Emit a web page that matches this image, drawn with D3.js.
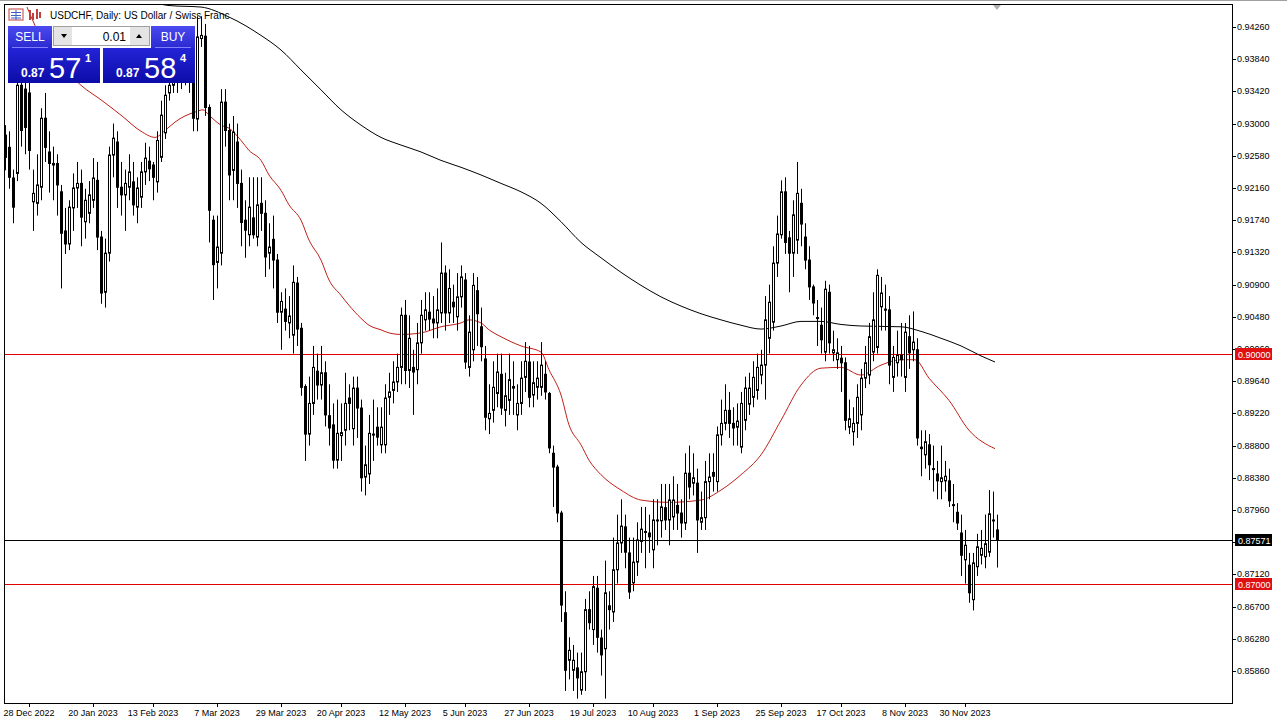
<!DOCTYPE html>
<html>
<head>
<meta charset="utf-8">
<script src="https://cdn.jsdelivr.net/npm/d3@7"></script>
<style>
  body { margin: 0; background: #fff; }
  svg text { font-family: "Liberation Sans", Arial, sans-serif; }
</style>
</head>
<body>
<div id="viz"></div>
<script>
// USDCHF daily, prices in pips (1/10000)
var opens = [
9285,9269,9229,9235,9350,9345,9340,9198,9196,9217,9307,9263,9246,9248,9211,9160,9143,9190,9216,9222,
9172,9183,9200,9226,9152,9080,9131,9259,9276,9217,9207,9217,9224,9191,9204,9237,9251,9246,9224,9256,
9288,9340,9350,9375,9355,9385,9355,9380,9306,9411,9414,9321,9174,9119,9131,9328,9291,9239,9276,9222,
9174,9155,9177,9152,9196,9183,9131,9149,9122,9054,9058,9040,9024,9092,9033,8957,8895,8935,8977,8959,
8975,8919,8907,8861,8893,8900,8942,8902,8955,8929,8839,8843,8895,8904,8881,8881,8943,8952,8963,8982,
9050,8978,8982,8979,9014,9044,9054,9045,9040,9053,9105,9053,9067,9048,9074,9096,8982,9005,9082,9035,
8993,8915,8926,8948,8973,8926,8939,8957,8920,8935,8969,8989,8946,8956,8956,8973,8948,8870,8852,8792,
8662,8600,8587,8590,8561,8585,8666,8640,8694,8629,8615,8671,8663,8718,8753,8774,8740,8701,8728,8755,
8767,8766,8744,8782,8782,8799,8783,8787,8802,8792,8779,8844,8831,8831,8780,8786,8833,8845,8833,8894,
8909,8926,8909,8904,8878,8913,8934,8943,8952,8972,8985,9020,9041,9118,9155,9211,9151,9131,9148,9196,
9152,9122,9087,9047,9037,9002,9080,9001,8992,8994,8988,8904,8898,8909,8920,8968,8972,9002,9008,9061,
9058,9057,8969,8988,8998,8969,9022,9005,9005,8876,8868,8881,8850,8843,8833,8834,8834,8803,8793,8766,
8731,8724,8679,8722,8737,8735,8741,8782,8770];
var highs = [
9298,9290,9240,9370,9375,9370,9355,9240,9260,9320,9340,9290,9270,9260,9220,9190,9200,9235,9250,9240,
9215,9225,9255,9250,9160,9150,9270,9300,9290,9250,9240,9260,9250,9230,9250,9275,9270,9250,9290,9330,
9350,9370,9395,9390,9400,9410,9400,9395,9440,9440,9430,9325,9180,9180,9345,9345,9300,9310,9300,9240,
9200,9230,9230,9230,9230,9200,9170,9180,9130,9080,9085,9075,9115,9100,9040,8960,8970,9010,9000,9010,
8990,8960,8935,8940,8935,8975,8960,8970,8970,8940,8880,8920,8940,8930,8930,8960,8975,8990,9000,9060,
9070,9050,9005,9040,9070,9080,9080,9075,9085,9145,9115,9110,9090,9105,9115,9105,9050,9105,9100,9060,
9010,8960,8990,9000,9000,8975,9000,8990,8960,8990,9015,9010,8990,8990,9015,8990,8950,8880,8855,8795,
8690,8630,8620,8610,8610,8680,8690,8710,8710,8640,8730,8690,8760,8790,8810,8790,8760,8760,8780,8800,
8800,8790,8810,8810,8830,8830,8830,8840,8830,8810,8870,8880,8870,8850,8820,8860,8870,8870,8905,8940,
8960,8950,8930,8935,8950,8970,8975,8990,9000,9005,9075,9090,9140,9180,9226,9230,9160,9200,9250,9215,
9170,9140,9090,9070,9060,9095,9090,9030,9020,9010,8995,8940,8930,8960,8980,9010,9040,9080,9110,9100,
9090,9075,9010,9030,9040,9040,9050,9055,9020,8900,8900,8895,8880,8860,8880,8860,8850,8830,8805,8790,
8770,8740,8740,8765,8770,8790,8822,8820,8790];
var lows = [
9239,9215,9170,9225,9270,9260,9240,9160,9180,9200,9250,9210,9200,9180,9085,9130,9135,9160,9190,9140,
9150,9170,9190,9135,9065,9060,9120,9230,9190,9180,9160,9200,9180,9170,9190,9220,9225,9200,9210,9250,
9280,9330,9340,9340,9345,9350,9340,9290,9290,9400,9310,9145,9070,9085,9115,9270,9200,9200,9190,9140,
9125,9140,9150,9140,9160,9100,9110,9085,9040,9005,9030,9020,9000,9010,8945,8860,8880,8920,8940,8940,
8905,8880,8850,8850,8860,8880,8900,8880,8890,8820,8815,8830,8860,8880,8870,8870,8920,8935,8950,8960,
8960,8955,8920,8960,9000,9030,9030,9020,9020,9040,9030,9040,9040,9030,9060,8980,8970,8990,9010,8990,
8900,8895,8910,8930,8920,8905,8920,8920,8900,8920,8950,8930,8930,8940,8945,8940,8870,8800,8780,8650,
8560,8575,8560,8550,8555,8560,8640,8620,8610,8580,8550,8640,8650,8700,8740,8720,8680,8690,8710,8740,
8720,8740,8720,8750,8760,8770,8750,8770,8770,8760,8770,8810,8815,8740,8770,8770,8810,8820,8820,8880,
8900,8890,8880,8880,8870,8900,8920,8930,8940,8960,8940,9000,9030,9100,9150,9130,9080,9100,9130,9140,
9110,9070,9050,9010,9000,8990,9000,8990,8980,8950,8900,8895,8880,8890,8900,8955,8960,8990,9000,9030,
9030,8960,8950,8970,8970,8950,8980,8990,8880,8840,8850,8835,8820,8810,8810,8820,8800,8780,8770,8710,
8700,8675,8665,8710,8725,8720,8735,8760,8721];
var closes = [
9256,9230,9191,9350,9291,9295,9265,9209,9220,9307,9269,9248,9248,9220,9157,9143,9191,9216,9222,9178,
9200,9207,9229,9152,9079,9131,9259,9281,9217,9207,9222,9237,9194,9216,9237,9255,9241,9230,9278,9311,
9337,9350,9375,9355,9385,9365,9383,9307,9413,9415,9321,9187,9116,9139,9328,9291,9233,9289,9222,9171,
9161,9191,9155,9194,9183,9126,9139,9122,9054,9068,9042,9049,9093,9032,8956,8895,8935,8982,8959,8975,
8920,8903,8861,8896,8897,8935,8935,8955,8929,8838,8855,8896,8894,8891,8904,8942,8950,8963,8982,9050,
8978,9020,8976,9014,9050,9057,9045,9040,9057,9105,9053,9085,9061,9074,9100,8989,9028,9089,9052,9009,
8917,8922,8956,8976,8929,8945,8966,8955,8935,8968,8990,8943,8962,8968,8985,8950,8877,8852,8792,8672,
8587,8613,8600,8577,8585,8666,8649,8696,8630,8607,8688,8666,8718,8753,8775,8741,8689,8728,8757,8771,
8768,8761,8783,8783,8800,8783,8809,8809,8792,8779,8844,8826,8838,8783,8786,8833,8839,8840,8894,8909,
8926,8909,8903,8912,8935,8955,8955,8969,8982,8985,9044,9067,9118,9156,9211,9145,9131,9181,9209,9169,
9122,9087,9066,9046,9018,9084,9014,9005,9001,8988,8913,8915,8909,8943,8968,8988,9022,9044,9102,9079,
9057,8985,8995,8998,8992,9028,9001,9015,8890,8878,8885,8855,8849,8834,8838,8840,8808,8802,8779,8737,
8750,8688,8727,8748,8746,8752,8791,8783,8757];

// moving averages: [bar index, value in pips]
var ma50 = [[5.5,9452],[7.5,9428],[19,9350],[24,9331],[29,9311],[34,9290],[37.5,9282],[40,9291],[42.5,9302],
[45,9310],[47.5,9315],[49.5,9318],[51,9311],[54,9298],[56,9294],[59,9278],[61,9265],[64,9252],[66,9233],
[69,9213],[71,9194],[74,9174],[76,9148],[79,9122],[81,9096],[84,9076],[86,9063],[89,9046],[91,9037],
[94,9031],[96,9027],[99,9025],[104,9027],[109,9035],[114,9040],[116,9044],[119,9040],[121,9031],[124,9022],
[129,9010],[134,9002],[136,8979],[139,8946],[141,8907],[144,8881],[146,8861],[149,8842],[154,8822],
[159,8809],[166,8806],[174,8809],[179,8822],[184,8842],[189,8868],[194,8913],[199,8959],[204,8981],
[209,8982],[214,8972],[219,8985],[224,8992],[227.5,8992],[231,8968],[236,8939],[241,8900],[247.5,8876]];
var ma200 = [[36,9460],[41,9454],[49,9452],[56,9439],[64,9415],[69,9396],[74,9370],[79,9344],[84,9318],
[89,9298],[94,9282],[99,9272],[104,9263],[109,9252],[114,9243],[119,9233],[124,9222],[129,9211],[134,9196],
[139,9172],[144,9145],[149,9125],[154,9106],[159,9089],[164,9074],[169,9062],[174,9052],[179,9044],
[184,9037],[189,9032],[194,9036],[199,9042],[204,9042],[209,9038],[214,9036],[224,9035],[229,9029],
[234,9020],[239,9010],[244,8997],[247.5,8989]];

var priceTicks = [0.94260,0.93840,0.93420,0.93000,0.92580,0.92160,0.91740,0.91320,0.90900,0.90480,
  0.90060,0.89640,0.89220,0.88800,0.88380,0.87960,0.87540,0.87120,0.86700,0.86280,0.85860];
var dateIdx = [6,22,37,53,69,84,100,115,131,147,162,178,194,209,225,240];
var dateLabels = ["28 Dec 2022","20 Jan 2023","13 Feb 2023","7 Mar 2023","29 Mar 2023","20 Apr 2023",
  "12 May 2023","5 Jun 2023","27 Jun 2023","19 Jul 2023","10 Aug 2023","1 Sep 2023","25 Sep 2023",
  "17 Oct 2023","8 Nov 2023","30 Nov 2023"];
var levels = [{p: 0.90000, c: "#e00000"}, {p: 0.87000, c: "#e00000"}, {p: 0.87571, c: "#000"}];

var width = 1287, height = 726;
var pl = 4, pr = 1232, pt = 4, pb = 703;

var svg = d3.select("#viz").append("svg")
    .attr("width", width).attr("height", height);

svg.append("rect").attr("width", width).attr("height", height).style("fill", "#fff");
svg.append("line").attr("x1", 0).attr("x2", width).attr("y1", 0.5).attr("y2", 0.5).style("stroke", "#a0a0a0");

var x = d3.scaleLinear().domain([-0.25, 306.75]).range([pl, pr]);
var y = d3.scaleLinear().domain([0.9426, 0.8586]).range([27, 671]);

svg.append("clipPath").attr("id", "clip").append("rect")
    .attr("x", pl).attr("y", pt).attr("width", pr - pl).attr("height", pb - pt);

var plot = svg.append("g").attr("clip-path", "url(#clip)");

// level lines
plot.selectAll(".lvl").data(levels).enter().append("line")
    .attr("x1", pl).attr("x2", pr)
    .attr("y1", function(d) { return Math.round(y(d.p)) + 0.5; })
    .attr("y2", function(d) { return Math.round(y(d.p)) + 0.5; })
    .style("stroke", function(d) { return d.c; }).style("stroke-width", 1);

var line = d3.line()
    .x(function(d) { return x(d[0]); })
    .y(function(d) { return y(d[1] / 10000); })
    .curve(d3.curveMonotoneX);

plot.append("path").datum(ma200).attr("d", line)
    .style("fill", "none").style("stroke", "#000").style("stroke-width", 1);
plot.append("path").datum(ma50).attr("d", line)
    .style("fill", "none").style("stroke", "#c0201a").style("stroke-width", 1);

var bars = d3.range(closes.length);
var px = function(i) { return Math.round(x(i)) + 0.5; };

plot.selectAll(".wick").data(bars).enter().append("line")
    .attr("x1", px).attr("x2", px)
    .attr("y1", function(i) { return y(highs[i] / 10000); })
    .attr("y2", function(i) { return y(lows[i] / 10000); })
    .style("stroke", "#000").style("stroke-width", 1);

plot.selectAll(".body").data(bars).enter().append("rect")
    .attr("x", function(i) { return px(i) - 1; })
    .attr("width", 2)
    .attr("y", function(i) { return y(Math.max(opens[i], closes[i]) / 10000); })
    .attr("height", function(i) {
      return Math.max(1, Math.abs(y(opens[i] / 10000) - y(closes[i] / 10000)));
    })
    .style("fill", function(i) { return closes[i] >= opens[i] ? "#fff" : "#000"; })
    .style("stroke", "#000").style("stroke-width", 1);

// frame
svg.append("rect").attr("x", pl + 0.5).attr("y", pt + 0.5)
    .attr("width", pr - pl).attr("height", pb - pt)
    .style("fill", "none").style("stroke", "#000");

// price axis
var axis = svg.append("g");
axis.selectAll(".tick").data(priceTicks).enter().append("line")
    .attr("x1", pr).attr("x2", pr + 4)
    .attr("y1", function(d) { return Math.round(y(d)) + 0.5; })
    .attr("y2", function(d) { return Math.round(y(d)) + 0.5; })
    .style("stroke", "#000");
axis.selectAll(".lab").data(priceTicks).enter().append("text")
    .attr("x", pr + 5).attr("y", function(d) { return y(d) + 3; })
    .style("font-size", "9px").text(function(d) { return d.toFixed(5); });

var tags = svg.selectAll(".tag").data(levels).enter().append("g")
    .attr("transform", function(d) { return "translate(" + (pr + 3) + "," + Math.round(y(d.p)) + ")"; });
tags.append("rect").attr("x", 0).attr("y", -6).attr("width", 37).attr("height", 12)
    .style("fill", function(d) { return d.c === "#000" ? "#000" : "#e01010"; });
tags.append("text").attr("x", 3).attr("y", 4).style("font-size", "9px").style("fill", "#fff")
    .text(function(d) { return d.p.toFixed(5); });

// date axis
svg.selectAll(".dtick").data(dateIdx).enter().append("line")
    .attr("x1", px).attr("x2", px).attr("y1", pb).attr("y2", pb + 4)
    .style("stroke", "#000");
svg.selectAll(".dlab").data(dateIdx).enter().append("text")
    .attr("x", function(i) { return x(i); }).attr("y", 716)
    .attr("text-anchor", "middle").style("font-size", "9px")
    .text(function(i, k) { return dateLabels[k]; });

// shift marker
svg.append("path").attr("d", "M993,5 L1001,5 L997,10 Z").style("fill", "#b0b0b0");

// title + icons
svg.append("rect").attr("x", 9).attr("y", 9).attr("width", 14).attr("height", 11)
    .style("fill", "#fff").style("stroke", "#c04040");
svg.append("path").attr("d", "M11,12.5 H21 M11,15.5 H21 M11,18 H21 M16,10 V20")
    .style("stroke", "#4060c0").style("stroke-width", 1);
svg.append("path").attr("d", "M30,10 V20 M33,13 V20 M37,9 V19 M40,12 V18")
    .style("stroke", "#c04040").style("stroke-width", 2);
svg.append("text").attr("x", 50).attr("y", 19).style("font-size", "10px")
    .text("USDCHF, Daily:  US Dollar / Swiss Franc");

// trade panel
var defs = svg.append("defs");
var g1 = defs.append("linearGradient").attr("id", "btn").attr("x1", 0).attr("y1", 0).attr("x2", 0).attr("y2", 1);
g1.append("stop").attr("offset", "0%").attr("stop-color", "#4a4af0");
g1.append("stop").attr("offset", "100%").attr("stop-color", "#2a2ad0");
var g2 = defs.append("linearGradient").attr("id", "price").attr("x1", 0).attr("y1", 0).attr("x2", 0).attr("y2", 1);
g2.append("stop").attr("offset", "0%").attr("stop-color", "#2424d8");
g2.append("stop").attr("offset", "100%").attr("stop-color", "#0c0ca8");

var panel = svg.append("g");
panel.append("rect").attr("x", 8).attr("y", 26).attr("width", 44).attr("height", 22).style("fill", "url(#btn)");
panel.append("rect").attr("x", 151).attr("y", 26).attr("width", 44).attr("height", 22).style("fill", "url(#btn)");
panel.append("rect").attr("x", 8).attr("y", 48).attr("width", 92).attr("height", 35).style("fill", "url(#price)");
panel.append("rect").attr("x", 103).attr("y", 48).attr("width", 92).attr("height", 35).style("fill", "url(#price)");
panel.append("line").attr("x1", 12).attr("x2", 48).attr("y1", 47.5).attr("y2", 47.5).style("stroke", "#8080ff");
panel.append("line").attr("x1", 155).attr("x2", 191).attr("y1", 47.5).attr("y2", 47.5).style("stroke", "#8080ff");
panel.append("rect").attr("x", 53.5).attr("y", 26.5).attr("width", 96).attr("height", 19)
    .style("fill", "#fff").style("stroke", "#a0a0a0");
panel.append("rect").attr("x", 54).attr("y", 27).attr("width", 18).attr("height", 18).style("fill", "#e4e4e4");
panel.append("rect").attr("x", 130).attr("y", 27).attr("width", 19).attr("height", 18).style("fill", "#e4e4e4");
panel.append("path").attr("d", "M61,34 L67,34 L64,38 Z").style("fill", "#000");
panel.append("path").attr("d", "M136,38 L142,38 L139,34 Z").style("fill", "#000");
panel.append("text").attr("x", 126).attr("y", 41).attr("text-anchor", "end").style("font-size", "12px").text("0.01");
panel.append("text").attr("x", 30).attr("y", 41).attr("text-anchor", "middle").style("font-size", "12px")
    .style("fill", "#fff").text("SELL");
panel.append("text").attr("x", 173).attr("y", 41).attr("text-anchor", "middle").style("font-size", "12px")
    .style("fill", "#fff").text("BUY");

var quotes = [{x0: 21, big: "57", sup: "1"}, {x0: 116, big: "58", sup: "4"}];
quotes.forEach(function(q) {
  panel.append("text").attr("x", q.x0).attr("y", 77).style("font-size", "12px").style("font-weight", "bold")
      .style("fill", "#fff").text("0.87");
  panel.append("text").attr("x", q.x0 + 28).attr("y", 78).style("font-size", "29px")
      .style("fill", "#fff").text(q.big);
  panel.append("text").attr("x", q.x0 + 64).attr("y", 62).style("font-size", "11px").style("font-weight", "bold")
      .style("fill", "#fff").text(q.sup);
});
</script>
</body>
</html>
